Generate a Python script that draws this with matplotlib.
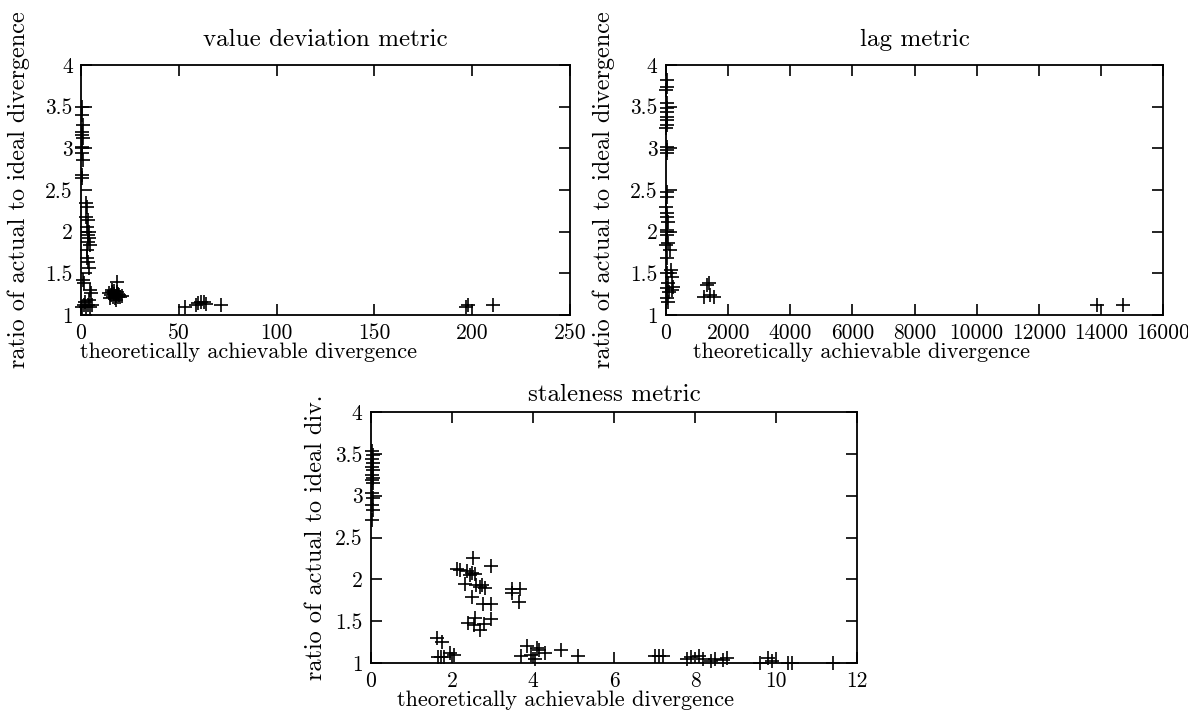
import matplotlib

matplotlib.use("Agg")

import matplotlib.pyplot as plt
from matplotlib.ticker import FormatStrFormatter, MultipleLocator

plt.rcParams["font.family"] = ["cmr10", "DejaVu Serif"]
plt.rcParams["axes.formatter.use_mathtext"] = True
plt.rcParams["mathtext.fontset"] = "cm"

# value deviation metric
vd_x = [0.3, 0.5, 0.8, 0.4, 0.6, 1.0, 0.3, 0.7, 0.5, 0.9, 0.4, 0.6,
        2.5, 3.0, 2.8, 3.5, 3.2, 4.0, 3.6, 4.2, 3.8, 4.5, 3.3, 3.0, 3.6, 4.0,
        1.0, 1.5, 4.5, 5.0,
        0.5, 1.5, 2.5, 3.5, 4.5, 5.5, 2.0, 4.0,
        14.5, 15.5, 16.0, 16.5, 17.0, 17.5, 18.0, 18.5, 19.0, 19.5, 20.0,
        21.0, 15.0, 17.0, 19.0, 18.3, 16.0, 18.0,
        53.0, 58.7, 59.7, 61.3, 63.0, 64.0, 71.5,
        197.0, 198.0, 210.4]
vd_y = [3.50, 3.40, 3.28, 3.20, 3.16, 3.12, 3.02, 3.00, 2.94, 2.86, 2.68, 2.64,
        2.34, 2.30, 2.18, 2.14, 2.06, 2.00, 1.96, 1.92, 1.88, 1.84, 1.78, 1.68, 1.64, 1.56,
        1.42, 1.38, 1.30, 1.26,
        1.10, 1.12, 1.10, 1.12, 1.10, 1.12, 1.15, 1.18,
        1.26, 1.24, 1.28, 1.22, 1.25, 1.20, 1.23, 1.27, 1.21, 1.24, 1.22,
        1.23, 1.20, 1.29, 1.25, 1.40, 1.30, 1.18,
        1.10, 1.12, 1.14, 1.15, 1.16, 1.13, 1.12,
        1.10, 1.12, 1.12]

# lag metric
lag_x = [20, 30, 15, 40, 25, 35, 20, 45, 30, 15, 25, 40, 20,
         30, 45, 15, 35, 25, 50, 20, 40, 30, 60, 15, 120, 45,
         150, 30, 200, 60, 40, 180, 20, 50, 90, 220,
         1212, 1319, 1417, 1536, 1380,
         13887, 14717]
lag_y = [3.82, 3.74, 3.70, 3.54, 3.48, 3.44, 3.38, 3.34, 3.28, 3.24, 3.02, 2.98, 2.94,
         2.48, 2.42, 2.30, 2.22, 2.18, 2.12, 2.02, 2.00, 1.96, 1.86, 1.84, 1.78, 1.68,
         1.54, 1.50, 1.46, 1.38, 1.32, 1.30, 1.20, 1.16, 1.28, 1.34,
         1.22, 1.36, 1.24, 1.22, 1.38,
         1.12, 1.12]

# staleness metric
st_x = [0.03, 0.05, 0.02, 0.04, 0.03, 0.05, 0.02, 0.04, 0.03, 0.05, 0.02, 0.04,
        0.03, 0.05, 0.02,
        2.13, 2.20, 2.36, 2.49, 2.57, 2.53, 2.96, 2.32, 2.60, 2.68, 2.75, 2.82,
        2.49, 2.76, 2.96, 3.47, 3.68, 3.47, 3.65, 2.57, 2.39, 2.55, 2.78, 2.70,
        2.96, 2.45,
        1.62, 1.75, 1.65, 1.72, 1.80, 1.95, 2.05,
        3.70, 3.85, 3.95, 4.05, 4.15, 4.30, 4.10, 4.70, 5.10,
        7.00, 7.10, 7.20, 7.80, 7.90, 8.10, 8.20, 8.40, 8.50, 8.70, 8.80,
        9.60, 9.80, 9.90, 10.30, 10.40, 11.40]
st_y = [3.53, 3.49, 3.44, 3.39, 3.34, 3.31, 3.25, 3.21, 3.19, 3.15, 3.03, 2.97,
        2.89, 2.83, 2.71,
        2.12, 2.11, 2.10, 2.08, 2.06, 2.26, 2.16, 1.95, 1.93, 1.91, 1.93, 1.90,
        1.79, 1.70, 1.70, 1.89, 1.89, 1.84, 1.73, 1.54, 1.48, 1.45, 1.47, 1.40,
        1.53, 2.05,
        1.30, 1.25, 1.07, 1.07, 1.07, 1.12, 1.10,
        1.08, 1.20, 1.10, 1.05, 1.15, 1.12, 1.18, 1.15, 1.08,
        1.08, 1.08, 1.08, 1.05, 1.07, 1.08, 1.05, 1.03, 1.05, 1.04, 1.06,
        1.00, 1.06, 1.02, 1.00, 1.00, 1.00]


def draw(ax, x, y, title, xmax, xstep, ylabel, xlab_pos, title_pad, ylab_pad):
    ax.plot(x, y, "+", color="black", markersize=9.5, markeredgewidth=1.2,
            clip_on=False)
    ax.set_xlim(0, xmax)
    ax.set_ylim(1, 4)
    ax.xaxis.set_major_locator(MultipleLocator(xstep))
    ax.yaxis.set_major_locator(MultipleLocator(0.5))
    ax.xaxis.set_major_formatter(FormatStrFormatter("%g"))
    ax.yaxis.set_major_formatter(FormatStrFormatter("%g"))
    ax.tick_params(direction="in", top=True, right=True, length=8, width=1.2,
                   labelsize=15.5, pad=6)
    for s in ax.spines.values():
        s.set_linewidth(1.3)
    ax.set_title(title, fontsize=18, pad=title_pad)
    ax.set_xlabel("theoretically achievable divergence", fontsize=16,
                  labelpad=0, x=xlab_pos)
    ax.set_ylabel(ylabel, fontsize=17.5, labelpad=ylab_pad)


fig = plt.figure(figsize=(11.88, 7.17), dpi=100)
ax1 = fig.add_axes([0.0682, 0.5607, 0.4116, 0.3487])
ax2 = fig.add_axes([0.5606, 0.5607, 0.4184, 0.3487])
ax3 = fig.add_axes([0.3123, 0.0753, 0.4091, 0.3500])

draw(ax1, vd_x, vd_y, "value deviation metric", 250, 50,
     "ratio of actual to ideal divergence", 0.342, 14, 11)
draw(ax2, lag_x, lag_y, "lag metric", 16000, 2000,
     "ratio of actual to ideal divergence", 0.394, 14, 11)
draw(ax3, st_x, st_y, "staleness metric", 12, 2,
     "ratio of actual to ideal div.", 0.40, 8, 6)

fig.savefig("out.png", dpi=100)
